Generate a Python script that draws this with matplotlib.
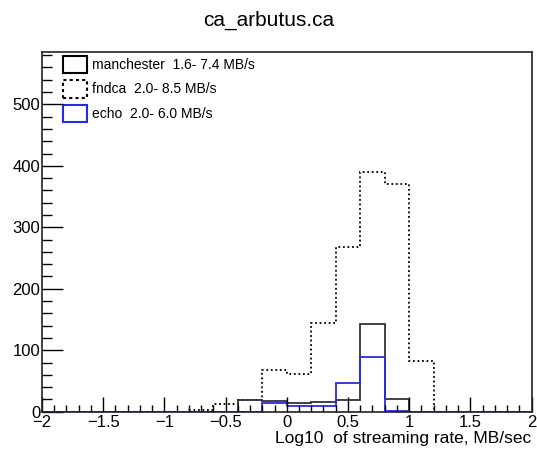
import numpy as np
import matplotlib.pyplot as plt
from matplotlib.patches import Rectangle
from matplotlib.ticker import MultipleLocator, FuncFormatter

plt.rcParams['font.family'] = ['Liberation Sans', 'DejaVu Sans']

# bin edges: 20 bins of 0.2 between -2 and 2
edges = np.linspace(-2, 2, 21)

manchester = [0, 0, 0, 0, 0, 0, 0, 0, 19, 18, 14, 16, 19, 142, 21, 0, 0, 0, 0, 0]
fndca = [0, 0, 0, 0, 0, 0, 3, 12, 19, 68, 61, 145, 268, 390, 371, 83, 0, 0, 0, 0]
echo = [0, 0, 0, 0, 0, 0, 0, 0, 0, 14, 9, 9, 46, 89, 2, 0, 0, 0, 0, 0]

labels = ['manchester  1.6- 7.4 MB/s', 'fndca  2.0- 8.5 MB/s', 'echo  2.0- 6.0 MB/s']

fig = plt.figure(figsize=(5.37, 4.49), dpi=100)
ax = fig.add_axes([0.078, 0.083, 0.912, 0.801])

ax.stairs(fndca, edges, color='black', linestyle=(0, (1, 1.5)), linewidth=1.3)
ax.stairs(manchester, edges, color='#333333', linewidth=1.3)
ax.stairs(echo, edges, color='#2a2ae0', linewidth=1.3)

ax.set_xlim(-2, 2)
ax.set_ylim(0, 585)
ax.xaxis.set_major_locator(MultipleLocator(0.5))
ax.xaxis.set_minor_locator(MultipleLocator(0.1))
ax.xaxis.set_major_formatter(FuncFormatter(lambda v, p: ('%g' % v).replace('-', '\u2212')))
ax.yaxis.set_major_locator(MultipleLocator(100))
ax.yaxis.set_minor_locator(MultipleLocator(20))
ax.tick_params(which='both', direction='in', top=False, right=False,
               labelsize=12, width=1)
ax.tick_params(axis='y', which='major', length=15, pad=1)
ax.tick_params(axis='y', which='minor', length=7)
ax.tick_params(axis='x', which='major', length=11, pad=2)
ax.tick_params(axis='x', which='minor', length=5)
for s in ax.spines.values():
    s.set_linewidth(1.2)
    s.set_color('#222222')

ax.set_xlabel('Log10  of streaming rate, MB/sec', fontsize=12.5, ha='right',
              x=1.0, labelpad=1)
fig.suptitle('ca_arbutus.ca', fontsize=15, y=0.975)

# legend drawn by hand, ROOT style
styles = [dict(edgecolor='black', linestyle='-'),
          dict(edgecolor='black', linestyle=(0, (1.5, 1.5))),
          dict(edgecolor='#2a2ae0', linestyle='-')]
trans = ax.transAxes
for i, (lab, st) in enumerate(zip(labels, styles)):
    yc = 0.965 - i * 0.068
    ax.add_patch(Rectangle((0.043, yc - 0.024), 0.05, 0.048, transform=trans,
                           facecolor='none', linewidth=1.5, clip_on=False,
                           **st))
    ax.text(0.102, yc, lab, transform=trans, fontsize=10, va='center')

fig.savefig('out.png', dpi=100)
